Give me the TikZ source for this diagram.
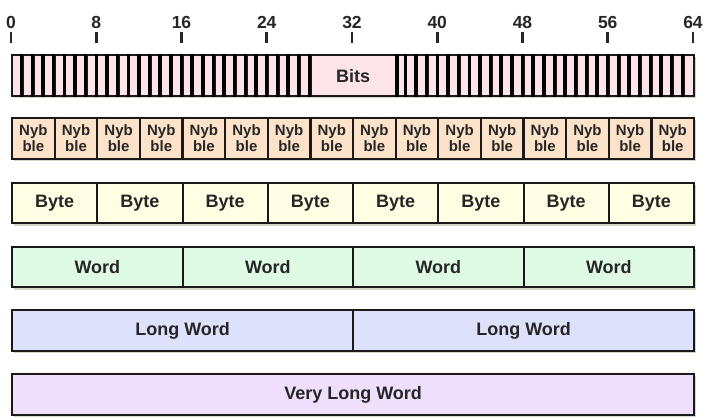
\documentclass[tikz,border=0pt]{standalone}
\usepackage{fontspec}
\setmainfont{Liberation Sans}
\usetikzlibrary{positioning}

\definecolor{bitpink}{RGB}{252,228,232}
\definecolor{nybpeach}{RGB}{252,226,200}
\definecolor{byteyellow}{RGB}{255,253,226}
\definecolor{wordgreen}{RGB}{222,250,228}
\definecolor{longblue}{RGB}{221,225,252}
\definecolor{vlongviolet}{RGB}{239,223,252}
\definecolor{shadowgrey}{RGB}{216,212,196}

\begin{document}
\begin{tikzpicture}[x=1pt, y=-1pt,
    field/.style={draw=black!90, line width=2.2pt, inner sep=0pt, anchor=north west,
        minimum height=41pt, text=black!85, font=\bfseries\fontsize{18}{18}\selectfont},
    bitcell/.style={field, fill=bitpink, minimum width=10.656pt},
    bitbar/.style={line width=3.4pt, black},
    nyb/.style={field, fill=nybpeach, minimum width=42.62pt, align=center,
        font=\bfseries\fontsize{15}{16}\selectfont},
    tickmark/.style={line width=2.6pt, black!85}]

    \useasboundingbox (0,0) rectangle (720,419);

    % shadows of the rows
    \foreach \y in {54,117,182,246,309,373}
        \fill[shadowgrey] (14,{\y+3}) rectangle (696,{\y+44});

    % bit numbers
    \foreach \t in {0,8,...,64} {
        \node[font=\bfseries\fontsize{17.5}{17.5}\selectfont, text=black!85] (n\t) at ({11+10.656*\t},22) {\t};
        \coordinate (m\t) at ({11+10.656*\t},32);
        \draw[tickmark] (m\t) -- ++(0,11);
    }

    % bits
    \foreach \k in {0,...,27,36,37,...,63}
        \node[bitcell] (b\k) at ({11+10.656*\k},54) {};
    \node[field, fill=bitpink, minimum width=85.25pt] (bits) at ({11+10.656*28},54) {Bits};
    \foreach \k in {1,...,27,37,38,...,63}
        \draw[bitbar] (b\k.north west) -- (b\k.south west);
    \draw[bitbar] (bits.north west) -- (bits.south west);
    \draw[bitbar] (bits.north east) -- (bits.south east);

    % nybbles
    \foreach \k in {0,...,15}
        \node[nyb] (ny\k) at ({11+42.62*\k},117) {Nyb\\ble};

    % bytes
    \foreach \k in {0,...,7}
        \node[field, fill=byteyellow, minimum width=85.25pt, minimum height=40pt] (by\k) at ({11+85.25*\k},182) {Byte};

    % words
    \foreach \k in {0,...,3}
        \node[field, fill=wordgreen, minimum width=170.5pt, minimum height=40pt] (w\k) at ({11+170.5*\k},246) {Word};

    % long words
    \foreach \k in {0,1}
        \node[field, fill=longblue, minimum width=341pt] (lw\k) at ({11+341*\k},309) {Long Word};

    % very long word
    \node[field, fill=vlongviolet, minimum width=682pt] (vlw) at (11,373) {Very Long Word};

\end{tikzpicture}
\end{document}
